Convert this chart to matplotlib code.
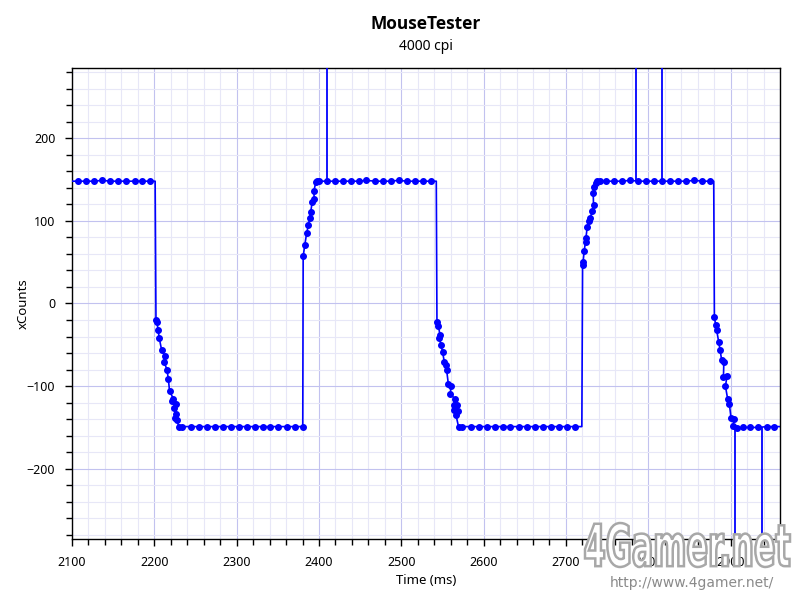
import matplotlib
matplotlib.use('Agg')
import matplotlib.pyplot as plt
from matplotlib.ticker import MultipleLocator
from matplotlib.textpath import TextPath
from matplotlib.patches import PathPatch
from matplotlib.font_manager import FontProperties
from matplotlib.transforms import Affine2D, IdentityTransform

plt.rcParams['font.family'] = ['Noto Sans', 'DejaVu Sans']

# samples (ms, xCounts), one block per stroke phase
time_ms = [
    2095, 2107, 2117, 2127, 2137, 2146, 2156, 2166, 2176, 2185, 2195, 2201,
    2202.0, 2203.2, 2204.6, 2206.0, 2208.8, 2212.6, 2212.0, 2215.3, 2217.0, 2218.5,
    2223.0, 2221.5, 2225.8, 2224.0, 2226.2, 2225.0, 2227.8, 2229.4,
    2234.2, 2244.3, 2254.0, 2263.7, 2273.5, 2283.2, 2292.6, 2302.7, 2312.0, 2321.7,
    2331.4, 2341.1, 2350.8, 2360.9, 2370.3, 2380.3,
    2380.8, 2382.8, 2385.0, 2387.2, 2388.6, 2390.0, 2391.8, 2394.2, 2393.8, 2396.2, 2397.2, 2400.4,
    2409.8, 2419.2, 2428.9, 2438.6, 2448.3, 2457.6, 2467.7, 2477.4, 2487.1, 2496.8,
    2506.5, 2516.2, 2525.9, 2535.6, 2542.5,
    2543.3, 2545.0, 2547.0, 2546.2, 2548.2, 2550.2, 2552.3, 2554.2, 2555.0, 2557.2,
    2560.3, 2559.6, 2565.2, 2563.6, 2567.6, 2564.4, 2568.4, 2566.4, 2569.7, 2573.7,
    2584.2, 2593.9, 2603.6, 2613.7, 2623.0, 2632.4, 2642.5, 2652.2, 2661.9, 2671.6,
    2681.3, 2691.0, 2700.7, 2710.8, 2719.3,
    2720.2, 2720.8, 2722.2, 2723.8, 2724.2, 2725.8, 2727.8, 2729.4, 2731.9, 2733.5,
    2733.1, 2734.3, 2735.9, 2738.0, 2740.8,
    2748.9, 2758.6, 2768.3, 2778.0, 2788.0, 2797.8, 2807.5, 2816.8, 2826.9, 2836.6,
    2846.3, 2856.0, 2865.7, 2875.4, 2879.5,
    2880.3, 2881.8, 2883.0, 2885.6, 2887.2, 2889.2, 2891.8, 2891.3, 2895.7, 2893.7,
    2896.5, 2898.5, 2900.6, 2904.6, 2902.5, 2907.4,
    2914.7, 2923.6, 2933.7, 2943.8, 2953.2, 2965,
]
x_counts = [
    148, 148, 148, 148, 149, 148, 148, 148, 148, 148, 148, 148,
    -20, -23, -32, -42, -56, -63, -71, -80, -91, -106,
    -115, -118, -122, -126, -134, -138, -141, -149,
    -149, -149, -149, -149, -149, -149, -149, -149, -149, -149,
    -149, -149, -149, -149, -149, -149,
    57, 71, 85, 95, 103, 111, 123, 126, 136, 147, 148, 148,
    148, 148, 148, 148, 148, 149, 148, 148, 148, 149,
    148, 148, 148, 148, 148,
    -22, -27, -38, -42, -50, -59, -71, -75, -80, -98,
    -100, -109, -116, -123, -123, -129, -130, -135, -150, -149,
    -149, -149, -149, -149, -149, -149, -149, -149, -149, -149,
    -149, -149, -149, -149, -149,
    47, 50, 64, 75, 79, 92, 100, 103, 112, 119,
    134, 141, 146, 148, 148,
    148, 148, 148, 149, 148, 148, 148, 148, 148, 148,
    148, 149, 148, 148, 148,
    -16, -26, -32, -47, -56, -69, -71, -89, -88, -100,
    -116, -122, -139, -140, -148, -151,
    -150, -150, -150, -149, -149, -149,
]
# line corners drawn without a marker
corner_ms = [2095, 2201, 2542.5, 2719.3, 2879.5, 2965]

# single out-of-range reports
spike_up_ms = [2410.0, 2785.3, 2816.2]
spike_down_ms = [2905.4, 2938.2]
spike_high, spike_low = 148, -150
spike_far = 3000

marked = [t not in corner_ms for t in time_ms]

fig = plt.figure(figsize=(8, 6), dpi=100)
ax = fig.add_axes([0.09, 0.1017, 0.885, 0.785])

ax.plot(time_ms, x_counts, color='#0000ff', lw=1.2, marker='o', ms=4,
        markevery=marked, zorder=3)
ax.vlines(spike_up_ms, spike_high, spike_far, color='#0000ff', lw=1.3, zorder=3)
ax.vlines(spike_down_ms, spike_low, -spike_far, color='#0000ff', lw=1.3, zorder=3)

ax.set_xlim(2100, 2960)
ax.set_ylim(-285, 285)
ax.xaxis.set_major_locator(MultipleLocator(100))
ax.xaxis.set_minor_locator(MultipleLocator(20))
ax.yaxis.set_major_locator(MultipleLocator(100))
ax.yaxis.set_minor_locator(MultipleLocator(20))
ax.set_axisbelow(True)
ax.grid(which='major', color='#c2c2ef', lw=0.8)
ax.grid(which='minor', color='#e7e7f7', lw=0.8)
ax.tick_params(which='major', direction='out', length=5, width=1, labelsize=9, pad=7)
ax.tick_params(which='minor', direction='out', length=4, width=1)
for s in ax.spines.values():
    s.set_linewidth(1)
    s.set_color('black')

ax.set_xlabel('Time (ms)', fontsize=9.5, labelpad=4)
ax.set_ylabel('xCounts', fontsize=9.5, labelpad=-2)
fig.text(0.5325, 0.960, 'MouseTester', ha='center', va='center', fontsize=12.5,
         fontweight='bold', family=['Open Sans', 'DejaVu Sans'])
fig.text(0.5325, 0.922, '4000 cpi', ha='center', va='center', fontsize=10)

# 4Gamer watermark
fp = FontProperties(family='DejaVu Sans', weight='bold')
tp = TextPath((0, 0), '4Gamer.net', size=1, prop=fp)
ext = tp.get_extents()
sx = 205 / ext.width
sy = 44 / ext.height
tr = Affine2D().translate(-ext.x0, -ext.y0).scale(sx, sy).translate(585, 33) + IdentityTransform()
logo = PathPatch(tp, transform=tr, facecolor='white', edgecolor='#a8a8a8', lw=1.8, zorder=10)
fig.patches.append(logo)
fig.text(0.865, 0.028, 'http://www.4gamer.net/', ha='center', va='center', fontsize=10,
         color='#8a8a8a', family='DejaVu Sans')

fig.savefig('out.png', dpi=100)
